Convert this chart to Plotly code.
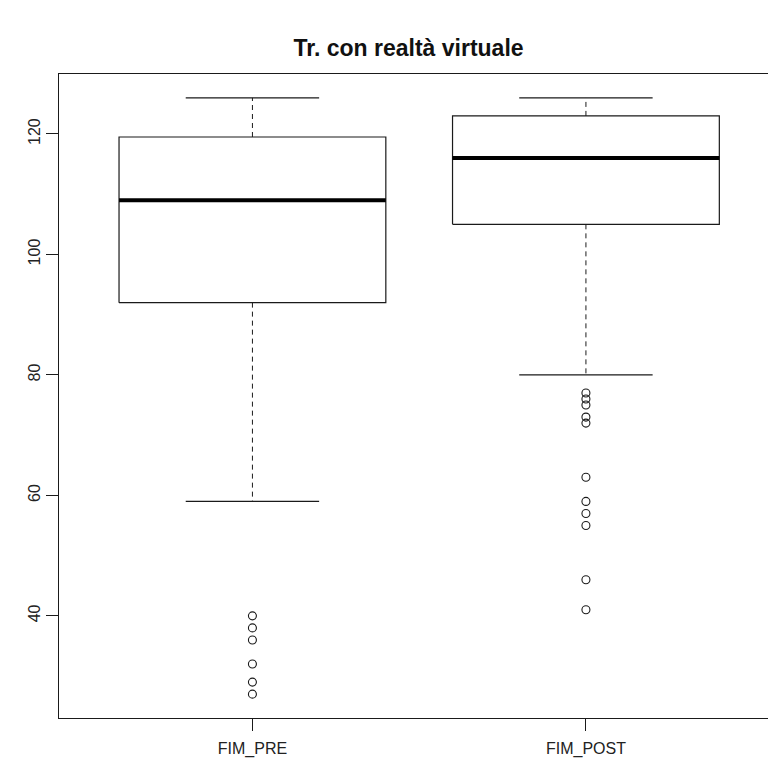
import plotly.graph_objects as go

# ---- data ----
categories = ["FIM_PRE", "FIM_POST"]
lower_whisker = [59, 80]
q1 = [92, 105]
median = [109, 116]
q3 = [119.5, 123]
upper_whisker = [126, 126]
outliers = [
    [40, 38, 36, 32, 29, 27],
    [77, 76, 75, 73, 72, 63, 59, 57, 55, 46, 41],
]
title_text = "Tr. con realtà virtuale"
y_ticks = [40, 60, 80, 100, 120]

BOX_HALF = 0.4
STAPLE_HALF = 0.2
LINE = "#1a1a1a"

fig = go.Figure()
for i, cat in enumerate(categories):
    c = i + 1
    # dashed whiskers
    fig.add_trace(go.Scatter(x=[c, c], y=[q3[i], upper_whisker[i]], mode="lines",
                             line=dict(color=LINE, width=1, dash="5px,4px"),
                             hoverinfo="skip", showlegend=False))
    fig.add_trace(go.Scatter(x=[c, c], y=[q1[i], lower_whisker[i]], mode="lines",
                             line=dict(color=LINE, width=1, dash="5px,4px"),
                             hoverinfo="skip", showlegend=False))
    # staples
    for v in (upper_whisker[i], lower_whisker[i]):
        fig.add_trace(go.Scatter(x=[c - STAPLE_HALF, c + STAPLE_HALF], y=[v, v], mode="lines",
                                 line=dict(color=LINE, width=1.2),
                                 hoverinfo="skip", showlegend=False))
    # box
    fig.add_trace(go.Scatter(
        x=[c - BOX_HALF, c + BOX_HALF, c + BOX_HALF, c - BOX_HALF, c - BOX_HALF],
        y=[q1[i], q1[i], q3[i], q3[i], q1[i]], mode="lines",
        line=dict(color=LINE, width=1.2), fill="toself", fillcolor="white",
        hoverinfo="skip", showlegend=False))
    # median
    fig.add_trace(go.Scatter(x=[c - BOX_HALF, c + BOX_HALF], y=[median[i], median[i]], mode="lines",
                             line=dict(color="black", width=4),
                             hoverinfo="skip", showlegend=False))
    # outliers
    fig.add_trace(go.Scatter(x=[c] * len(outliers[i]), y=outliers[i], mode="markers",
                             marker=dict(symbol="circle-open", size=8, color=LINE,
                                         line=dict(width=1.1)),
                             name=cat, showlegend=False))

fig.update_layout(
    width=768, height=772,
    margin=dict(l=59, r=0, t=74, b=54),
    paper_bgcolor="white", plot_bgcolor="white",
    font=dict(family="Liberation Sans, Arial, sans-serif", size=16, color="#222222"),
    title=dict(text="<b>" + title_text + "</b>", x=0.493, xref="paper", xanchor="center",
               y=1 - 48 / 772, yref="container", yanchor="middle",
               font=dict(size=23, color="#111111")),
    showlegend=False,
)
fig.update_xaxes(range=[0.42, 0.42 + (768 - 59) / 333.5], tickvals=[1, 2], ticktext=categories,
                 showgrid=False, zeroline=False, showline=True, linecolor=LINE, linewidth=1.2,
                 mirror=True, ticks="outside", ticklen=12, tickcolor=LINE, tickwidth=1,
                 ticklabelstandoff=4)
fig.update_yaxes(range=[23.04, 129.96], tickvals=y_ticks, tickangle=-90,
                 showgrid=False, zeroline=False, showline=True, linecolor=LINE, linewidth=1.2,
                 ticks="outside", ticklen=12, tickcolor=LINE, tickwidth=1,
                 ticklabelstandoff=0)

fig.write_html("out.html")
